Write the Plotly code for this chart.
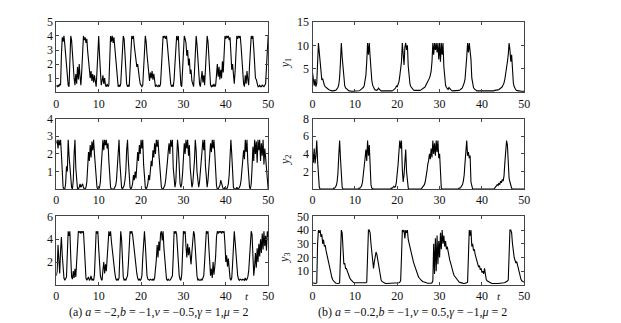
import plotly.graph_objects as go

# sampling grid (t from 0 to 50, step 0.2)
t = [round(i * 0.2, 1) for i in range(251)]

# (a) left column
a_row1 = [
    0.5, 0.4, 0.5, 0.4, 0.6, 0.5, 2.6, 3.9, 3.6, 4.0,
    3.4, 2.5, 1.7, 0.9, 0.5, 0.4, 2.0, 4.0, 3.7, 2.6,
    1.6, 1.0, 0.5, 1.3, 0.6, 1.8, 0.9, 2.0, 1.1, 0.5,
    1.5, 3.3, 4.0, 3.7, 3.9, 3.5, 3.8, 2.9, 2.0, 1.4,
    1.0, 1.5, 0.8, 1.3, 0.7, 1.2, 0.5, 0.4, 1.5, 3.4,
    4.0, 2.6, 1.2, 0.5, 0.8, 1.2, 0.6, 1.0, 0.5, 0.4,
    0.6, 0.4, 0.5, 2.5, 4.0, 3.6, 4.0, 3.5, 3.9, 3.2,
    2.3, 1.5, 0.8, 0.4, 0.5, 0.4, 0.6, 1.8, 3.2, 4.0,
    3.8, 2.5, 1.3, 0.6, 0.4, 0.5, 0.4, 1.4, 3.0, 4.0,
    3.8, 4.0, 3.3, 2.8, 2.3, 1.8, 2.0, 1.3, 1.0, 0.6,
    0.5, 0.4, 0.5, 1.4, 2.8, 4.0, 3.6, 2.7, 1.9, 1.2,
    0.8, 1.4, 1.0, 1.5, 0.9, 1.3, 0.6, 0.4, 0.5, 0.4,
    0.4, 0.5, 0.4, 0.6, 1.8, 3.8, 4.0, 3.9, 4.0, 3.8,
    4.0, 3.4, 2.6, 1.9, 1.2, 0.6, 0.4, 0.5, 0.4, 0.9,
    2.0, 3.2, 4.0, 3.7, 4.0, 2.6, 1.2, 0.5, 0.4, 1.5,
    3.2, 4.0, 3.8, 3.5, 2.6, 3.0, 1.9, 2.4, 1.3, 1.6,
    0.8, 0.5, 0.4, 1.4, 3.0, 4.0, 3.4, 2.2, 1.3, 0.6,
    0.4, 0.9, 1.5, 0.7, 1.2, 0.5, 1.6, 3.2, 4.0, 3.6,
    2.3, 1.0, 0.5, 0.4, 0.5, 0.4, 0.6, 0.4, 0.5, 1.2,
    2.0, 1.1, 1.8, 0.9, 1.6, 1.0, 2.2, 1.4, 3.2, 4.0,
    3.8, 4.0, 3.9, 4.0, 3.7, 3.9, 2.8, 1.6, 2.0, 1.1,
    0.6, 1.5, 3.6, 4.0, 3.8, 4.0, 3.9, 4.0, 3.3, 2.2,
    1.3, 0.6, 0.4, 1.2, 0.6, 1.5, 0.9, 0.5, 1.9, 3.6,
    4.0, 3.8, 4.0, 3.1, 1.9, 1.0, 0.9, 0.5, 0.4, 0.4,
    0.5, 0.4, 0.4, 0.5, 0.4, 0.4, 0.5, 0.6, 1.8, 3.4,
    4.0,
]

a_row2 = [
    2.6, 2.8, 2.3, 2.8, 2.5, 2.8, 2.0, 0.6, 0.1, 0.0,
    0.0, 0.3, 1.3, 1.0, 2.8, 1.9, 1.3, 0.6, 0.1, 0.0,
    0.5, 2.0, 2.8, 1.2, 0.3, 0.0, 0.0, 0.1, 0.3, 0.1,
    0.2, 0.3, 0.1, 0.0, 0.0, 0.1, 0.4, 1.2, 2.1, 1.6,
    2.5, 1.8, 2.7, 2.2, 2.8, 2.0, 1.2, 0.4, 0.1, 0.0,
    0.0, 0.1, 0.4, 1.3, 2.4, 2.8, 2.2, 2.8, 2.5, 2.8,
    2.3, 2.6, 1.6, 0.5, 0.1, 0.0, 0.0, 0.0, 0.0, 0.1,
    0.2, 0.5, 1.2, 2.3, 2.8, 1.5, 0.4, 0.1, 0.0, 0.1,
    0.2, 0.5, 1.0, 2.2, 2.8, 1.6, 0.5, 0.1, 0.0, 0.1,
    0.3, 0.8, 0.5, 1.0, 0.6, 1.5, 2.1, 1.6, 2.5, 2.0,
    2.8, 2.3, 2.8, 1.4, 0.4, 0.1, 0.0, 0.1, 0.3, 0.8,
    0.5, 0.9, 1.6, 1.3, 2.2, 1.8, 2.6, 2.0, 2.8, 2.4,
    2.8, 2.0, 1.2, 0.4, 0.1, 0.0, 0.0, 0.1, 0.2, 0.5,
    0.9, 1.5, 2.1, 2.6, 2.0, 2.8, 2.4, 2.8, 1.2, 0.3,
    0.1, 0.4, 1.3, 2.8, 2.3, 1.0, 0.3, 0.1, 0.3, 0.9,
    1.8, 2.6, 2.0, 2.8, 2.3, 2.8, 1.9, 2.5, 1.2, 0.3,
    0.1, 0.3, 0.8, 1.6, 2.8, 2.2, 1.0, 0.3, 0.1, 0.4,
    1.0, 1.9, 2.5, 2.8, 2.2, 2.8, 1.3, 0.4, 0.1, 0.5,
    1.2, 2.0, 2.6, 2.1, 2.8, 2.3, 2.8, 2.0, 1.0, 0.2,
    0.0, 0.0, 0.1, 0.2, 0.5, 0.3, 0.1, 0.0, 0.0, 0.1,
    0.0, 0.0, 0.1, 0.3, 0.8, 1.6, 2.8, 2.0, 0.6, 0.1,
    0.0, 0.0, 0.0, 0.1, 0.0, 0.0, 0.1, 0.2, 0.5, 1.0,
    1.6, 2.2, 1.7, 2.8, 2.1, 2.8, 1.5, 0.5, 0.1, 0.0,
    0.3, 1.2, 2.4, 1.6, 2.8, 2.0, 2.7, 1.5, 2.8, 2.2,
    2.8, 1.6, 2.6, 1.9, 2.8, 1.4, 2.3, 1.8, 1.0, 0.3,
    0.0,
]

a_row3 = [
    0.8, 1.2, 3.5, 2.0, 1.0, 3.0, 4.2, 2.6, 1.1, 0.6,
    0.4, 0.5, 0.7, 2.8, 4.7, 4.3, 4.7, 2.5, 0.7, 0.5,
    1.2, 0.6, 1.4, 0.7, 2.0, 4.0, 4.7, 4.6, 4.7, 4.5,
    4.7, 4.6, 4.7, 3.4, 1.6, 0.6, 0.4, 0.5, 0.7, 0.4,
    0.5, 0.8, 0.4, 0.5, 0.4, 0.9, 2.6, 4.7, 4.5, 4.7,
    3.2, 1.8, 0.8, 0.5, 0.4, 1.3, 2.0, 1.0, 1.8, 1.2,
    2.5, 4.4, 4.7, 4.3, 4.7, 3.8, 3.0, 2.4, 1.8, 1.1,
    0.6, 0.4, 0.5, 0.4, 0.6, 2.2, 4.7, 4.0, 1.8, 0.7,
    0.4, 0.5, 0.4, 0.6, 0.8, 1.8, 4.2, 4.7, 4.5, 4.7,
    4.4, 3.6, 2.9, 2.1, 1.5, 1.0, 0.6, 0.4, 0.5, 0.4,
    0.5, 0.8, 2.4, 4.3, 4.7, 3.6, 1.8, 0.8, 0.5, 0.4,
    0.4, 0.5, 0.4, 0.4, 0.5, 0.4, 0.6, 1.2, 2.2, 3.5,
    2.4, 3.8, 3.0, 4.5, 4.7, 3.9, 4.7, 3.2, 2.0, 1.0,
    0.5, 0.4, 0.5, 0.4, 0.4, 0.5, 0.6, 0.8, 2.5, 4.7,
    4.5, 4.7, 4.4, 3.2, 1.8, 0.8, 0.5, 0.4, 0.9, 2.8,
    4.7, 4.5, 4.7, 3.4, 2.4, 3.6, 2.6, 3.3, 2.2, 1.8,
    2.9, 4.2, 4.7, 4.4, 3.0, 1.8, 0.8, 0.4, 0.5, 0.4,
    0.4, 0.5, 0.4, 0.6, 0.8, 2.0, 4.0, 4.7, 4.5, 4.7,
    3.3, 1.9, 0.8, 1.4, 0.6, 2.0, 0.9, 1.6, 2.5, 4.2,
    4.7, 4.5, 4.7, 4.6, 4.7, 4.5, 4.7, 4.6, 4.7, 3.6,
    2.0, 2.6, 1.6, 2.3, 1.2, 0.6, 0.4, 0.6, 1.8, 4.3,
    4.7, 3.8, 2.5, 1.4, 0.8, 0.5, 0.4, 0.5, 0.4, 0.4,
    0.5, 0.4, 0.4, 0.6, 0.4, 0.5, 0.7, 1.2, 2.8, 4.5,
    4.7, 4.4, 2.5, 0.8, 1.6, 2.8, 1.5, 3.2, 2.0, 3.6,
    2.5, 4.0, 2.8, 4.5, 3.1, 4.7, 3.4, 4.3, 3.0, 4.7,
    4.2,
]

# (b) right column
b_y1 = [
    4.2, 2.6, 1.4, 2.8, 1.2, 1.9, 6.5, 10.5, 8.5, 6.0,
    3.5, 2.6, 2.9, 1.8, 1.5, 1.2, 1.0, 0.8, 0.7, 0.6,
    0.5, 0.4, 0.4, 0.3, 0.3, 0.3, 0.3, 0.4, 0.5, 0.7,
    1.0, 1.6, 3.2, 6.5, 10.5, 7.5, 5.0, 2.5, 1.4, 0.9,
    0.7, 0.5, 0.4, 0.3, 0.3, 0.2, 0.2, 0.2, 0.2, 0.2,
    0.2, 0.2, 0.2, 0.2, 0.3, 0.3, 0.4, 0.5, 0.7, 0.9,
    1.0, 1.4, 2.2, 3.6, 6.5, 10.5, 8.0, 10.5, 7.5, 4.5,
    2.5, 1.5, 1.0, 0.7, 0.5, 0.4, 0.4, 0.6, 0.9, 0.6,
    0.4, 0.3, 0.3, 0.3, 0.2, 0.2, 0.2, 0.2, 0.2, 0.2,
    0.2, 0.2, 0.2, 0.3, 0.3, 0.4, 0.5, 0.7, 0.9, 1.3,
    1.2, 1.6, 2.2, 3.5, 5.5, 6.5, 10.5, 7.0, 5.8, 9.5,
    10.5, 9.0, 10.0, 5.5, 3.0, 1.8, 1.2, 0.9, 0.7, 0.5,
    0.4, 0.4, 0.3, 0.3, 0.3, 0.3, 0.4, 0.4, 0.5, 0.6,
    0.7, 0.8, 1.0, 1.2, 1.5, 1.8, 2.2, 2.6, 3.0, 3.6,
    4.5, 6.5, 10.5, 8.0, 10.5, 9.0, 10.5, 8.5, 10.5, 7.0,
    10.5, 6.5, 10.5, 8.0, 10.5, 5.5, 2.5, 1.5, 1.0, 0.8,
    0.6, 1.0, 0.7, 0.5, 0.4, 0.3, 0.3, 0.3, 0.3, 0.3,
    0.3, 0.3, 0.4, 0.4, 0.5, 0.6, 0.8, 1.0, 1.4, 2.0,
    2.8, 4.5, 7.5, 10.5, 8.5, 10.5, 9.0, 7.0, 3.0, 1.6,
    1.0, 0.7, 0.5, 0.4, 0.3, 0.3, 0.3, 0.2, 0.2, 0.2,
    0.2, 0.2, 0.2, 0.2, 0.2, 0.2, 0.2, 0.2, 0.2, 0.3,
    0.3, 0.3, 0.3, 0.3, 0.3, 0.4, 0.4, 0.4, 0.5, 0.5,
    0.6, 0.7, 0.8, 1.0, 1.2, 1.5, 2.0, 2.8, 3.8, 5.0,
    6.5, 8.0, 10.5, 9.0, 6.5, 8.0, 4.5, 2.0, 1.2, 0.8,
    0.5, 0.4, 0.3, 0.3, 0.3, 0.2, 0.2, 0.2, 0.2, 0.2,
    0.2,
]

b_y2 = [
    4.2, 3.0, 4.6, 2.9, 3.8, 5.5, 3.2, 1.0, 0.2, 0.0,
    0.0, 0.0, 0.0, 0.0, 0.0, 0.0, 0.0, 0.0, 0.0, 0.0,
    0.0, 0.0, 0.0, 0.0, 0.0, 0.1, 0.1, 0.2, 0.4, 0.8,
    1.8, 3.8, 5.5, 3.5, 1.0, 0.2, 0.0, 0.0, 0.0, 0.0,
    0.0, 0.0, 0.0, 0.0, 0.0, 0.0, 0.0, 0.0, 0.0, 0.0,
    0.0, 0.0, 0.0, 0.0, 0.0, 0.1, 0.1, 0.2, 0.4, 0.8,
    1.5, 2.6, 3.5, 4.5, 3.2, 5.5, 3.8, 5.0, 2.0, 0.5,
    0.1, 0.0, 0.0, 0.0, 0.0, 0.0, 0.0, 0.0, 0.0, 0.0,
    0.0, 0.0, 0.0, 0.0, 0.0, 0.0, 0.0, 0.0, 0.0, 0.0,
    0.0, 0.0, 0.0, 0.1, 0.1, 0.2, 0.3, 0.2, 0.3, 0.8,
    1.5, 2.8, 4.2, 5.5, 4.6, 5.5, 2.2, 0.8, 1.6, 3.8,
    4.5, 2.0, 0.4, 0.1, 0.0, 0.0, 0.0, 0.0, 0.0, 0.0,
    0.0, 0.0, 0.0, 0.0, 0.0, 0.0, 0.0, 0.0, 0.0, 0.1,
    0.2, 0.3, 0.5, 0.8, 1.3, 2.0, 2.8, 3.2, 4.0, 3.4,
    4.6, 3.6, 5.5, 4.0, 5.2, 3.8, 5.5, 4.2, 5.5, 3.5,
    4.0, 0.6, 0.1, 0.0, 0.0, 0.0, 0.0, 0.0, 0.0, 0.0,
    0.0, 0.0, 0.0, 0.0, 0.0, 0.0, 0.0, 0.0, 0.0, 0.0,
    0.0, 0.0, 0.0, 0.1, 0.1, 0.2, 0.3, 0.5, 0.9, 1.6,
    3.0, 4.5, 5.5, 3.8, 4.2, 3.5, 3.8, 0.8, 0.1, 0.0,
    0.0, 0.0, 0.0, 0.0, 0.0, 0.0, 0.0, 0.0, 0.0, 0.0,
    0.0, 0.0, 0.0, 0.0, 0.0, 0.0, 0.0, 0.0, 0.0, 0.0,
    0.0, 0.0, 0.0, 0.0, 0.0, 0.1, 0.2, 0.3, 0.5, 0.4,
    0.7, 0.5, 0.9, 0.7, 1.1, 0.9, 1.5, 3.0, 4.8, 5.5,
    5.0, 3.0, 1.2, 0.8, 0.3, 0.1, 0.0, 0.0, 0.0, 0.0,
    0.0, 0.0, 0.0, 0.0, 0.0, 0.0, 0.0, 0.0, 0.0, 0.0,
    0.0,
]

b_y3 = [
    1.5, 1.2, 1.0, 1.0, 1.2, 1.4, 30.0, 40.0, 38.0, 40.0,
    35.0, 37.0, 30.0, 33.0, 28.0, 29.0, 25.0, 22.0, 20.0, 17.0,
    12.0, 10.0, 7.0, 5.0, 3.5, 2.5, 2.0, 1.5, 1.2, 1.0,
    1.0, 1.0, 1.5, 15.0, 40.0, 38.0, 20.0, 15.0, 16.0, 12.0,
    12.0, 10.0, 8.0, 6.0, 5.0, 4.0, 3.0, 2.5, 2.0, 1.5,
    1.5, 1.2, 1.0, 1.0, 1.0, 1.0, 1.0, 1.0, 1.0, 1.0,
    1.0, 1.0, 1.2, 1.5, 2.0, 30.0, 40.0, 40.0, 38.0, 30.0,
    24.0, 16.0, 12.0, 17.0, 20.0, 24.0, 22.0, 18.0, 12.0, 8.0,
    5.0, 3.5, 2.5, 2.0, 1.5, 1.2, 1.0, 1.0, 1.0, 1.0,
    1.0, 1.0, 1.0, 1.0, 1.0, 1.0, 1.0, 1.0, 1.0, 1.0,
    1.0, 1.2, 1.5, 2.0, 3.0, 20.0, 40.0, 39.0, 40.0, 34.0,
    40.0, 38.0, 40.0, 33.0, 30.0, 28.0, 25.0, 22.0, 20.0, 17.0,
    15.0, 13.0, 11.0, 9.0, 7.5, 6.0, 5.0, 4.0, 3.5, 3.0,
    2.5, 2.2, 2.0, 1.8, 1.5, 1.3, 1.2, 1.2, 1.1, 1.0,
    1.2, 1.5, 3.0, 30.0, 8.0, 34.0, 10.0, 36.0, 15.0, 32.0,
    20.0, 38.0, 26.0, 40.0, 30.0, 36.0, 28.0, 32.0, 26.0, 28.0,
    24.0, 21.0, 18.0, 16.0, 13.0, 11.0, 9.0, 7.0, 6.0, 5.0,
    4.0, 3.2, 2.5, 2.0, 1.8, 1.5, 1.3, 1.2, 1.1, 1.0,
    1.0, 1.2, 1.5, 2.0, 25.0, 40.0, 36.0, 40.0, 28.0, 30.0,
    25.0, 26.0, 22.0, 20.0, 17.0, 15.0, 13.0, 14.0, 11.0, 12.0,
    9.0, 10.0, 8.0, 12.0, 6.0, 4.0, 3.0, 2.5, 2.0, 1.5,
    1.3, 1.2, 1.1, 1.0, 1.0, 1.0, 1.0, 1.0, 1.0, 1.0,
    1.0, 1.0, 1.0, 1.1, 1.2, 1.3, 1.5, 1.8, 2.0, 2.5,
    2.8, 3.5, 35.0, 40.0, 40.0, 38.0, 30.0, 24.0, 20.0, 18.0,
    16.0, 17.0, 14.0, 11.0, 8.0, 6.0, 4.0, 3.0, 2.5, 2.0,
    1.8,
]

x_ticks = [0, 10, 20, 30, 40, 50]
yticks_a = [[1, 2, 3, 4, 5], [1, 2, 3, 4], [2, 4, 6]]
yranges_a = [[0, 5], [0, 4], [0, 6]]
yticks_b = [[5, 10, 15], [2, 4, 6, 8], [10, 20, 30, 40, 50]]
yranges_b = [[0, 15], [0, 8], [0, 50]]
y_labels_b = ["<i>y</i><sub>1</sub>", "<i>y</i><sub>2</sub>", "<i>y</i><sub>3</sub>"]
caption_a = "(a) <i>a</i> = −2,<i>b</i> = −1,<i>v</i> = −0.5,<i>γ</i> = 1,<i>μ</i> = 2"
caption_b = "(b) <i>a</i> = −0.2,<i>b</i> = −1,<i>v</i> = 0.5,<i>γ</i> = −1,<i>μ</i> = 2"

# page body has an 8px margin: the figure is drawn 8px right/down
OFF = 8
W, H = 621 - OFF, 323 - OFF
FONT = "Liberation Serif"


def px_x(v):
    return (v - OFF) / W


def px_y(v):
    return 1 - (v - OFF) / H


col_dom = [[px_x(54), px_x(269)], [px_x(314), px_x(529)]]
row_px = [(15, 87), (114, 186), (214, 284)]
row_dom = [[px_y(b), px_y(t_)] for (t_, b) in row_px]

series = [[a_row1, b_y1], [a_row2, b_y2], [a_row3, b_y3]]
fig = go.Figure()
layout = {}
idx = 0
for r in range(3):
    for c in range(2):
        idx += 1
        sx = "" if idx == 1 else str(idx)
        fig.add_trace(go.Scatter(
            x=t, y=series[r][c], mode="lines",
            line=dict(color="black", width=1.1),
            xaxis="x" + sx, yaxis="y" + sx, showlegend=False,
            hoverinfo="skip"))
        common = dict(showline=True, linecolor="#444", linewidth=1,
                      mirror="allticks", ticks="inside", ticklen=3,
                      tickcolor="#444", showgrid=False, zeroline=False,
                      tickfont=dict(family=FONT, size=12, color="#111"))
        layout["xaxis" + sx] = dict(domain=col_dom[c], anchor="y" + sx,
                                    range=[0, 50], tickvals=x_ticks, **common)
        if c == 0:
            yt, yr = yticks_a[r], yranges_a[r]
        else:
            yt, yr = yticks_b[r], yranges_b[r]
        layout["yaxis" + sx] = dict(domain=row_dom[r], anchor="x" + sx,
                                    range=yr, tickvals=yt, **common)

annotations = []
label_centers = [57, 156, 256]
for r in range(3):
    annotations.append(dict(
        text=y_labels_b[r], x=px_x(286.5), y=px_y(label_centers[r]),
        xref="paper", yref="paper", showarrow=False, textangle=-90,
        font=dict(family=FONT, size=12, color="#111"),
        xanchor="center", yanchor="middle"))
for xc in (248, 503):
    annotations.append(dict(
        text="<i>t</i>", x=px_x(xc), y=px_y(295), xref="paper", yref="paper",
        showarrow=False, font=dict(family=FONT, size=11, color="#111"),
        xanchor="center", yanchor="middle"))
annotations.append(dict(
    text=caption_a, x=px_x(158), y=px_y(312), xref="paper", yref="paper",
    showarrow=False, font=dict(family=FONT, size=12, color="#111"),
    xanchor="center", yanchor="middle"))
annotations.append(dict(
    text=caption_b, x=px_x(415), y=px_y(312), xref="paper", yref="paper",
    showarrow=False, font=dict(family=FONT, size=12, color="#111"),
    xanchor="center", yanchor="middle"))

fig.update_layout(
    width=W, height=H,
    margin=dict(l=0, r=0, t=0, b=0),
    paper_bgcolor="white", plot_bgcolor="white",
    annotations=annotations,
    **layout)

fig.write_html("out.html")
